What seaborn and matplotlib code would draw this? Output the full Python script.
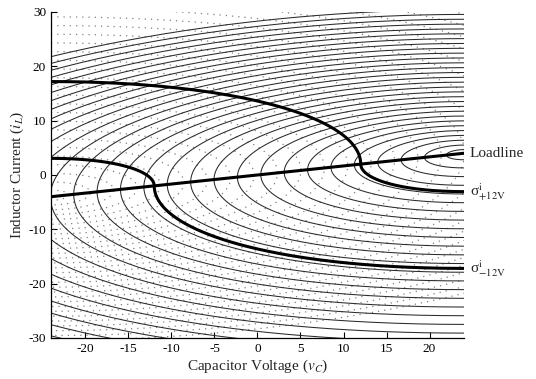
import numpy as np
import pandas as pd
import matplotlib
matplotlib.use("Agg")
import matplotlib.pyplot as plt
import seaborn as sns

# ---- data -------------------------------------------------------------
V_IN = 24.0          # equilibrium voltage of the "on" trajectories (V)
R_LOAD = 6.0         # loadline slope 1/R  (i = v / R)
Z_CHAR = 2.2         # characteristic impedance sqrt(L/C) estimated from the arcs
# inductor current where each thin arc meets v = 24 below the loadline end
arc_crossings = [2.8, 1.3, -0.3, -1.9, -3.5, -5.1, -6.7, -8.3, -9.9, -11.5,
                 -13.1, -14.7, -16.3, -17.9, -19.5, -21.1, -22.7, -24.3,
                 -25.9, -27.5, -29.1, -30.7, -32.3, -33.9, -35.5, -37.1,
                 -38.7, -40.3, -41.9, -43.5]
sigma_targets = [12.0, -12.0]
sigma_subs = ["+12V", "-12V"]
loadline_v = [-24.0, 24.0]
x_ticks = [-20, -15, -10, -5, 0, 5, 10, 15, 20]
y_ticks = [-30, -20, -10, 0, 10, 20, 30]

zeta = Z_CHAR / (2 * R_LOAD)
omega = np.sqrt(1 - zeta ** 2)
tau_star = np.arctan2(omega, zeta) / omega


def arc(w0, tau):
    """offsets (du, di) from the equilibrium along a trajectory
    starting at the crossing of v = equilibrium with current offset w0."""
    W0 = Z_CHAR * w0
    e = np.exp(-zeta * tau)
    du = W0 * e * np.sin(omega * tau) / omega
    dW = W0 * e * (np.cos(omega * tau) + zeta / omega * np.sin(omega * tau))
    return du, dW / Z_CHAR


i_eq = V_IN / R_LOAD
tau_full = np.linspace(0, np.pi / omega, 400)
rows_on, rows_off = [], []
for k, ic in enumerate(arc_crossings):
    du, di = arc(ic - i_eq, tau_full)
    for a, b in zip(du, di):
        rows_on.append((k, V_IN + a, i_eq + b))
        rows_off.append((k, -V_IN - a, -i_eq - b))
df_on = pd.DataFrame(rows_on, columns=["curve", "v", "i"])
df_off = pd.DataFrame(rows_off, columns=["curve", "v", "i"])

rows_sig = []
tau_q = np.linspace(0, tau_star, 200)
sig_end = []
for k, vt in enumerate(sigma_targets):
    # "on" part, arriving at the target from v = V_IN
    w0 = (vt - V_IN) * np.exp(zeta * tau_star) / Z_CHAR
    du, di = arc(w0, tau_q)
    sig_end.append(i_eq + di[0])
    part_on = [(V_IN + a, i_eq + b) for a, b in zip(du, di)]
    # "off" part, from v = -V_IN to the target
    w02 = -(vt + V_IN) * np.exp(zeta * tau_star) / Z_CHAR
    du2, di2 = arc(w02, tau_q)
    part_off = [(-V_IN - a, -i_eq - b) for a, b in zip(du2, di2)]
    for j, (a, b) in enumerate(part_off + part_on[::-1]):
        rows_sig.append((k, j, a, b))
df_sig = pd.DataFrame(rows_sig, columns=["curve", "order", "v", "i"])
df_load = pd.DataFrame({"v": loadline_v, "i": [v / R_LOAD for v in loadline_v]})

# ---- figure -----------------------------------------------------------
sns.set_theme(style="ticks")
plt.rcParams["font.family"] = ["Liberation Serif", "DejaVu Serif"]
plt.rcParams["mathtext.fontset"] = "stix"
plt.rcParams["axes.unicode_minus"] = False

fig = plt.figure(figsize=(5.36, 3.79), dpi=100)
ax = fig.add_axes([0.0951, 0.1082, 0.7705, 0.8602])

sns.lineplot(data=df_off, x="v", y="i", units="curve", estimator=None, sort=False,
             ax=ax, color="#808080", lw=0.9, linestyle=(0, (1, 4)))
sns.lineplot(data=df_on, x="v", y="i", units="curve", estimator=None, sort=False,
             ax=ax, color="#2a2a2a", lw=0.75)
sns.lineplot(data=df_sig, x="v", y="i", units="curve", estimator=None, sort=False,
             ax=ax, color="black", lw=2.2)
sns.lineplot(data=df_load, x="v", y="i", estimator=None, sort=False,
             ax=ax, color="black", lw=2.2)

ax.set_xlim(-24, 24)
ax.set_ylim(-30, 30)
ax.set_xticks(x_ticks)
ax.set_yticks(y_ticks)
ax.tick_params(direction="in", length=4, width=0.8, labelsize=9.5, colors="black")
for s in ["top", "right"]:
    ax.spines[s].set_visible(False)
for s in ["left", "bottom"]:
    ax.spines[s].set_color("black")
    ax.spines[s].set_linewidth(0.9)
ax.set_xlabel(r"Capacitor Voltage ($v_C$)", fontsize=11, labelpad=2)
ax.set_ylabel(r"Inductor Current ($i_L$)", fontsize=11, labelpad=2)

ax.annotate("Loadline", xy=(24, V_IN / R_LOAD), xytext=(4, 0),
            textcoords="offset points", ha="left", va="center",
            fontsize=11, annotation_clip=False)
for sub, yy in zip(sigma_subs, sig_end):
    ax.annotate("σ" + r"$^{\mathrm{i}}_{\mathrm{%s}}$" % sub, xy=(24, yy),
                xytext=(4, 0), textcoords="offset points",
                ha="left", va="center", fontsize=11, annotation_clip=False)

fig.savefig("out.png", dpi=100)
